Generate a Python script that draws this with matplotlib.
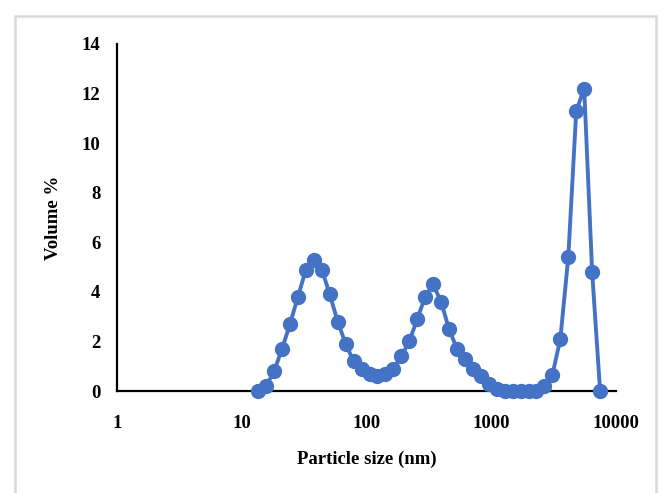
import matplotlib
matplotlib.use('Agg')
import matplotlib.pyplot as plt
from matplotlib.patches import Rectangle
from matplotlib.ticker import FixedLocator, FixedFormatter, NullLocator

# particle size bins (nm) and volume %
sizes = [13.54, 15.69, 18.17, 21.04, 24.36, 28.21, 32.67, 37.84, 43.82, 50.75,
         58.77, 68.06, 78.82, 91.28, 105.7, 122.4, 141.8, 164.2, 190.1, 220.2,
         255.0, 295.3, 342.0, 396.1, 458.7, 531.2, 615.1, 712.4, 825.0, 955.4,
         1106, 1281, 1484, 1718, 1990, 2305, 2669, 3091, 3580, 4145,
         4801, 5560, 6439, 7456]
volume = [0.0, 0.2, 0.8, 1.7, 2.7, 3.8, 4.9, 5.3, 4.9, 3.9,
          2.8, 1.9, 1.2, 0.9, 0.7, 0.6, 0.7, 0.9, 1.4, 2.0,
          2.9, 3.8, 4.3, 3.6, 2.5, 1.7, 1.3, 0.9, 0.6, 0.3,
          0.1, 0.0, 0.0, 0.0, 0.0, 0.0, 0.2, 0.65, 2.1, 5.4,
          11.3, 12.2, 4.8, 0.0]

x_ticks = [1, 10, 100, 1000, 10000]
x_labels = ['1', '10', '100', '1000', '10000']
y_ticks = [0, 2, 4, 6, 8, 10, 12, 14]

plt.rcParams['font.family'] = ['Liberation Serif', 'DejaVu Serif']
plt.rcParams['font.weight'] = 'bold'

fig = plt.figure(figsize=(6.62, 4.93), dpi=100)
fig.patches.append(Rectangle((15 / 662, -0.1), (656 - 15) / 662, 1.1 - 16 / 493,
                             transform=fig.transFigure, fill=False,
                             edgecolor='#d9d9d9', linewidth=1.8))

ax = fig.add_axes([117 / 662, 1 - 391 / 493, (616 - 117) / 662, (391 - 44) / 493])
ax.plot(sizes, volume, color='#4472C4', linewidth=2.8, marker='o',
        markersize=10, clip_on=False, zorder=3)

ax.set_xscale('log')
ax.set_xlim(1, 10000)
ax.set_ylim(0, 14)
ax.xaxis.set_major_locator(FixedLocator(x_ticks))
ax.xaxis.set_major_formatter(FixedFormatter(x_labels))
ax.xaxis.set_minor_locator(NullLocator())
ax.set_yticks(y_ticks)

for s in ['top', 'right']:
    ax.spines[s].set_visible(False)
for s in ['left', 'bottom']:
    ax.spines[s].set_linewidth(1.6)
    ax.spines[s].set_color('black')

ax.tick_params(axis='both', length=0, labelsize=13.5)
ax.tick_params(axis='x', pad=17)
ax.tick_params(axis='y', pad=12)

ax.set_xlabel('Particle size (nm)', fontsize=13.5, fontweight='bold', labelpad=14)
ax.set_ylabel('Volume %', fontsize=13.5, fontweight='bold', labelpad=14)

fig.savefig('out.png', dpi=100)
